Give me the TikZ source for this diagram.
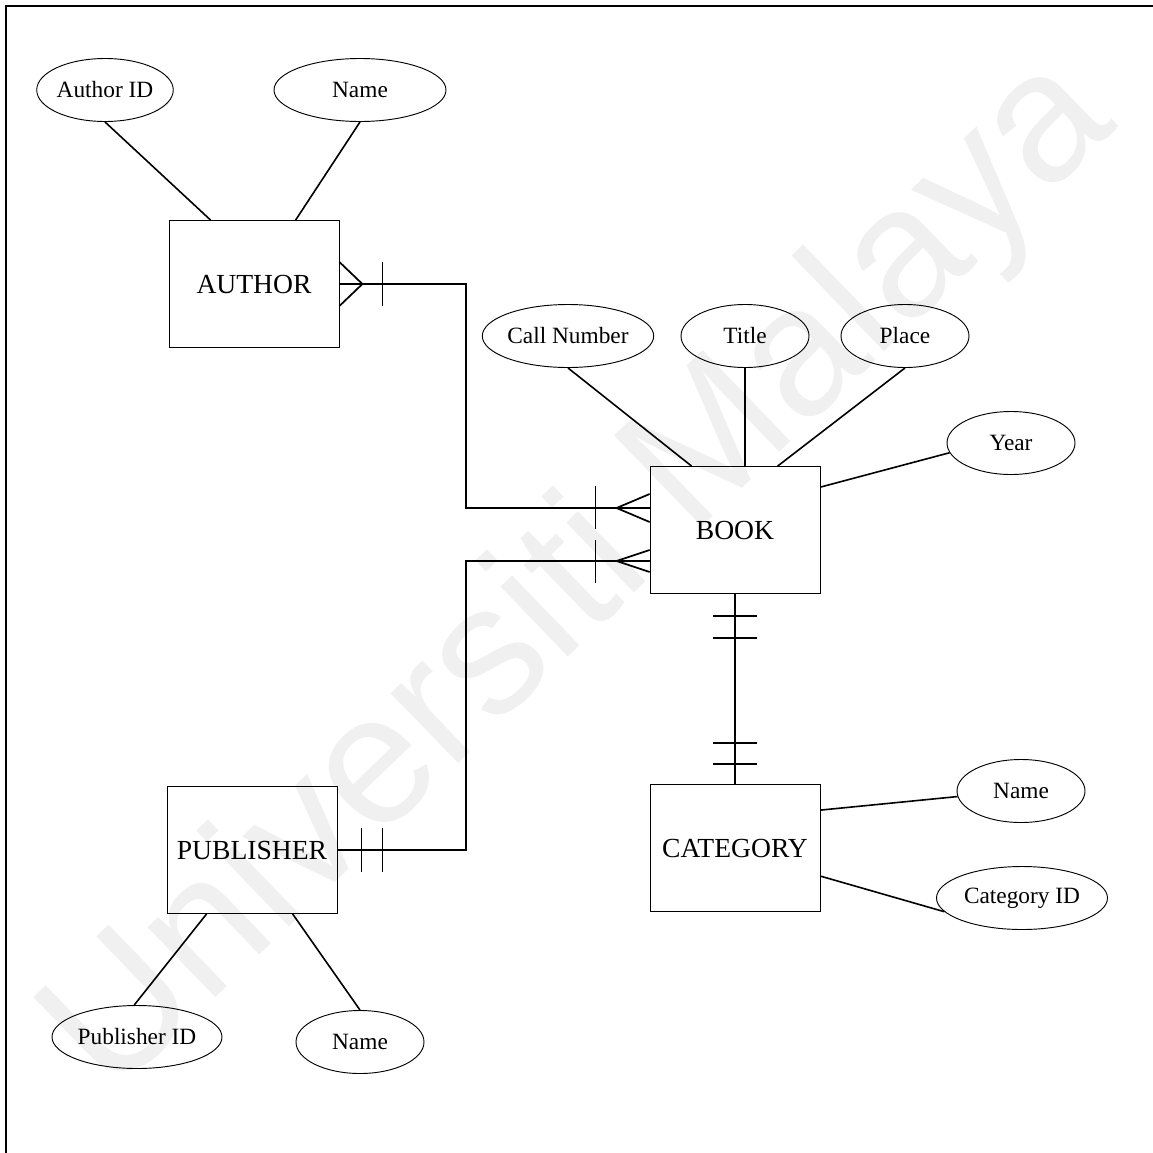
\documentclass[tikz,border=0pt]{standalone}
\usepackage{fontspec}
\setmainfont{Liberation Serif}
\newfontfamily\wmfont{Liberation Sans}
\usetikzlibrary{shapes.geometric,calc}
\tikzset{
  entity/.style={draw, line width=0.6pt, rectangle, inner sep=0pt, minimum width={170*0.75pt}, minimum height={127*0.75pt}, font=\fontsize{20.7}{24}\selectfont},
  attr/.style={draw, line width=0.7pt, ellipse, inner sep=0pt, minimum height={63*0.75pt}, font=\fontsize{17.5}{20}\selectfont},
  conn/.style={line width=1.3pt},
  link/.style={line width=1.2pt},
  frame/.style={line width=1.6pt},
}
\begin{document}
\begin{tikzpicture}[x=0.75pt,y=-0.75pt]
\useasboundingbox (0,0) rectangle (1153,1153);
% watermark
\node[rotate=44, text=black!6, font=\wmfont\fontsize{138}{138}\selectfont, inner sep=0pt] (wm) at (582,578) {Universiti Malaya};
% frame
\draw[frame] (1153,6) -- (6,6) -- (6,1153);
% entities
\node[entity] (author) at (254,284) {AUTHOR};
\node[entity] (book) at (735,530) {BOOK};
\node[entity] (pub) at (252,850) {PUBLISHER};
\node[entity] (cat) at (735,848) {CATEGORY};
% attributes
\node[attr, minimum width={129*0.75pt}] (aid) at (105,90) {Author ID};
\node[attr, minimum width={172*0.75pt}] (aname) at (360,90) {Name};
\node[attr, minimum width={170*0.75pt}] (callno) at (568,336) {Call Number};
\node[attr, minimum width={128*0.75pt}] (title) at (745,336) {Title};
\node[attr, minimum width={128*0.75pt}] (place) at (905,336) {Place};
\node[attr, minimum width={128*0.75pt}] (year) at (1011,443) {Year};
\node[attr, minimum width={128*0.75pt}] (cname) at (1021,791) {Name};
\node[attr, minimum width={171*0.75pt}] (catid) at (1022,898) {Category ID};
\node[attr, minimum width={170*0.75pt}] (pubid) at (137,1037) {Publisher ID};
\node[attr, minimum width={128*0.75pt}] (pname) at (360,1042) {Name};
% attribute links
\draw[link] (aid.south) -- ($(author.north west)+(42,0)$);
\draw[link] (aname.south) -- ($(author.north west)+(127,0)$);
\draw[link] (callno.south) -- ($(book.north west)+(42,0)$);
\draw[link] (title.south) -- ($(book.north)+(10,0)$);
\draw[link] (place.south) -- ($(book.north west)+(128,0)$);
\draw[link] (year.189) -- ($(book.north east)+(0,21)$);
\draw[link] (cname.185) -- ($(cat.north east)+(0,26)$);
\draw[link] (catid.190) -- ($(cat.north east)+(0,92)$);
\draw[link] ($(pub.south west)+(40,0)$) -- (pubid.95);
\draw[link] ($(pub.south west)+(126,0)$) -- (pname.north);
% relationship AUTHOR - BOOK
\coordinate (ja) at (466,400);
\coordinate (bookA) at ($(book.west)+(0,-22)$);
\draw[conn] (author.east) -| (ja) |- (bookA);
\draw[conn] ($(author.east)+(0,-22)$) -- ($(author.east)+(23,0)$) -- ($(author.east)+(0,22)$);
\draw[conn] ($(author.east)+(43,-22)$) -- ($(author.east)+(43,22)$);
\draw[conn] ($(bookA)+(0,-14)$) -- ($(bookA)+(-33,0)$) -- ($(bookA)+(0,14)$);
\draw[conn] ($(bookA)+(-54,-22)$) -- ($(bookA)+(-54,21)$);
% relationship PUBLISHER - BOOK
\coordinate (jb) at (466,700);
\coordinate (bookB) at ($(book.west)+(0,31)$);
\draw[conn] (bookB) -| (jb) |- (pub.east);
\draw[conn] ($(bookB)+(0,-11)$) -- ($(bookB)+(-33,0)$) -- ($(bookB)+(0,11)$);
\draw[conn] ($(bookB)+(-54,-21)$) -- ($(bookB)+(-54,22)$);
\draw[conn] ($(pub.east)+(24,-22)$) -- ($(pub.east)+(24,22)$);
\draw[conn] ($(pub.east)+(45,-22)$) -- ($(pub.east)+(45,22)$);
% relationship BOOK - CATEGORY
\draw[conn] (book.south) -- (cat.north);
\draw[conn] ($(book.south)+(-22,22)$) -- ($(book.south)+(22,22)$);
\draw[conn] ($(book.south)+(-22,44)$) -- ($(book.south)+(22,44)$);
\draw[conn] ($(cat.north)+(-22,-41)$) -- ($(cat.north)+(22,-41)$);
\draw[conn] ($(cat.north)+(-22,-20)$) -- ($(cat.north)+(22,-20)$);
\end{tikzpicture}
\end{document}
